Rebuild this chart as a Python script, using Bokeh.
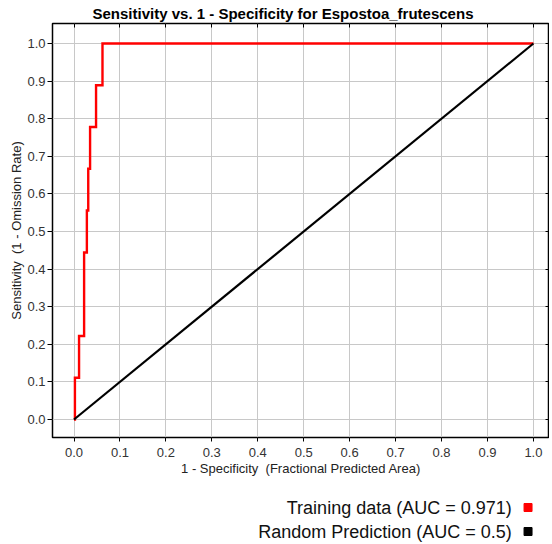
from bokeh.plotting import figure
from bokeh.models import Range1d, LinearAxis, FixedTicker, CustomJSTickFormatter
from bokeh.layouts import column
from bokeh.embed import file_html
from bokeh.resources import INLINE
from bokeh.core.properties import value

# ---- data ----
title_text = "Sensitivity vs. 1 - Specificity for Espostoa_frutescens"
x_label = "1 - Specificity\u00a0 (Fractional Predicted Area)"
y_label = "Sensitivity\u00a0 (1 - Omission Rate)"
tick_values = [0.0, 0.1, 0.2, 0.3, 0.4, 0.5, 0.6, 0.7, 0.8, 0.9, 1.0]
tick_labels = ["0.0", "0.1", "0.2", "0.3", "0.4", "0.5", "0.6", "0.7", "0.8", "0.9", "1.0"]

train_fpr = [0.0, 0.002, 0.002, 0.011, 0.011, 0.022, 0.022, 0.028, 0.028,
             0.031, 0.031, 0.035, 0.035, 0.048, 0.048, 0.062, 0.062, 1.0]
train_tpr = [0.0, 0.0, 0.111, 0.111, 0.222, 0.222, 0.444, 0.444, 0.556,
             0.556, 0.667, 0.667, 0.778, 0.778, 0.889, 0.889, 1.0, 1.0]
random_fpr = [0.0, 1.0]
random_tpr = [0.0, 1.0]

legend_labels = ["Training data (AUC = 0.971)", "Random Prediction (AUC = 0.5)"]
legend_colors = ["#ff0000", "#000000"]

FONT = "Liberation Sans"

# ---- main chart ----
p = figure(frame_width=497, frame_height=414, output_backend="svg", toolbar_location=None,
           x_range=Range1d(-0.0468, 1.035), y_range=Range1d(-0.0479, 1.0532),
           min_border_left=52, min_border_right=0, min_border_top=23, min_border_bottom=45)
p.background_fill_color = "white"
p.border_fill_color = "white"
p.outline_line_color = "black"
p.outline_line_width = 1.5

p.title.text = title_text
p.title.align = "left"
p.title.offset = 40
p.title.text_font = FONT
p.title.text_font_size = "15px"
p.title.text_font_style = "bold"
p.title.text_color = "black"
p.title.standoff = 4

overrides = {v: l for v, l in zip(tick_values, tick_labels)}
for ax in (p.xaxis[0], p.yaxis[0]):
    ax.ticker = FixedTicker(ticks=tick_values)
    ax.major_label_overrides = overrides
    ax.minor_tick_line_color = None
    ax.major_tick_in = 0
    ax.major_tick_out = 5
    ax.major_tick_line_color = "black"
    ax.axis_line_color = None
    ax.major_label_text_font = FONT
    ax.major_label_text_font_size = "13px"
    ax.major_label_text_color = "#333333"
    ax.axis_label_text_font = FONT
    ax.axis_label_text_font_size = "13px"
    ax.axis_label_text_font_style = "normal"
    ax.axis_label_text_color = "#222222"

p.xaxis.axis_label = x_label
p.yaxis.axis_label = y_label
p.xaxis.major_tick_out = 4
p.xaxis.major_label_standoff = 6
p.xaxis.axis_label_standoff = 1
p.yaxis.major_label_standoff = 2
p.yaxis.axis_label_standoff = 0

blank = CustomJSTickFormatter(code="return ''")
for loc in ("above", "right"):
    ax = LinearAxis(ticker=FixedTicker(ticks=tick_values), formatter=blank,
                    major_label_standoff=0, major_tick_in=4, major_tick_out=0,
                    minor_tick_line_color=None, axis_line_color=None,
                    major_tick_line_color="black")
    p.add_layout(ax, loc)

for g in (p.xgrid[0], p.ygrid[0]):
    g.ticker = FixedTicker(ticks=tick_values)
    g.grid_line_color = "#c8c8c8"
    g.grid_line_width = 1

p.line(train_fpr, train_tpr, line_color=legend_colors[0], line_width=2.4, line_join="miter")
p.line(random_fpr, random_tpr, line_color=legend_colors[1], line_width=2.2)

# ---- legend strip ----
lg = figure(width=552, height=62, output_backend="svg", toolbar_location=None,
            x_axis_type=None, y_axis_type=None,
            x_range=Range1d(0, 552), y_range=Range1d(62, 0),
            min_border=0)
lg.outline_line_color = None
lg.grid.visible = False
lg.text(x=[507, 507], y=[25, 49], text=legend_labels, text_align="right",
        text_baseline="middle", text_font=value(FONT), text_font_size="18px",
        text_color="#111111")
lg.scatter(x=[525, 525], y=[25, 49], marker="square", size=8,
           fill_color=legend_colors, line_color=legend_colors)

layout = column(p, lg, spacing=0)
open("out.html", "w").write(file_html(layout, INLINE))
